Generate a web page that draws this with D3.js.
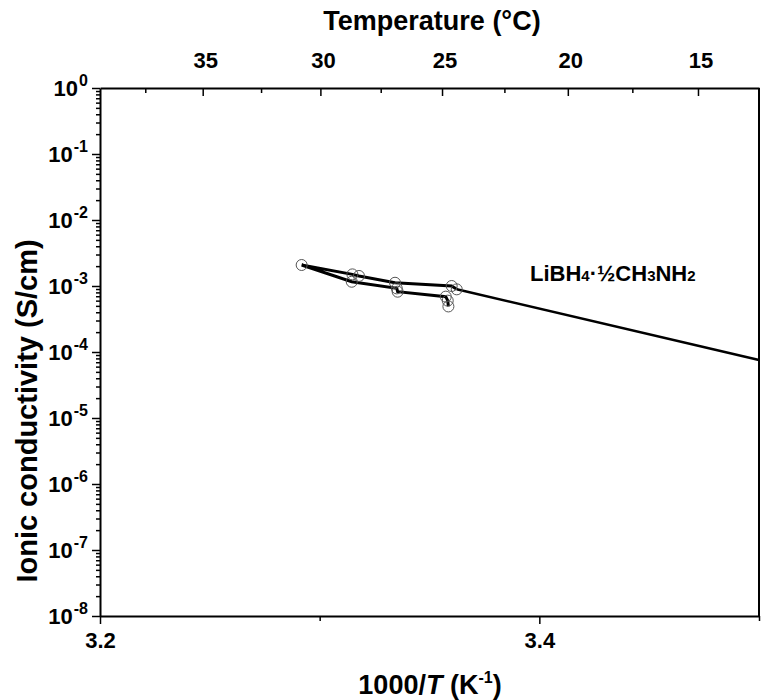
<!DOCTYPE html>
<html>
<head>
<meta charset="utf-8">
<script src="https://cdn.jsdelivr.net/npm/d3@7"></script>
<style>
  body { margin: 0; background: #fff; }
  text { font-family: "Liberation Sans", Arial, sans-serif; font-weight: bold; fill: #000; }
</style>
</head>
<body>
<div id="chart"></div>
<script>
// measured points, 1000/T (K^-1) and conductivity (S/cm), in path order
const invT = [3.3586, 3.3583, 3.3574, 3.3355, 3.3351, 3.3146, 3.2918, 3.3149, 3.3179, 3.3343, 3.3601, 3.3624];
const sigma = [4.9e-4, 6.0e-4, 6.9e-4, 8.2e-4, 9.2e-4, 1.16e-3, 2.08e-3, 1.50e-3, 1.42e-3, 1.12e-3, 1.0e-3, 8.9e-4];
// straight extension line
const fitInvT = [3.3624, 3.5];
const fitSigma = [8.9e-4, 7.57e-5];

const xMajor = [3.2, 3.4];
const xMinor = [3.3, 3.5];
const tempMajor = [35, 30, 25, 20, 15];
const tempMinor = [37.5, 32.5, 27.5, 22.5, 17.5];
const yExponents = [0, -1, -2, -3, -4, -5, -6, -7, -8];

var width = 767,
    height = 700,
    margin = {top: 88, right: 8, bottom: 84, left: 100};

var svg = d3.select("#chart")
    .append("svg")
    .attr("width", width)
    .attr("height", height);

var x = d3.scaleLinear().domain([3.2, 3.5]).range([margin.left, width - margin.right]);
var y = d3.scaleLog().domain([1e-8, 1]).range([height - margin.bottom, margin.top]);
var toX = c => 1000 / (c + 273);

var y0 = height - margin.bottom, y1 = margin.top;
var x0 = margin.left, x1 = width - margin.right;

// minor log ticks
var yMinor = [];
yExponents.slice(0, -1).forEach(e => {
    for (var k = 2; k < 10; k++) yMinor.push(k * Math.pow(10, e - 1));
});

// Y axis
svg.append("g")
    .attr("transform", `translate(${x0},0)`)
    .call(d3.axisLeft(y).tickValues(yExponents.map(e => Math.pow(10, e))).tickSize(8).tickSizeOuter(0).tickFormat(""));
svg.append("g")
    .attr("transform", `translate(${x0},0)`)
    .call(d3.axisLeft(y).tickValues(yMinor).tickSize(4).tickSizeOuter(0).tickFormat(""))
    .select(".domain").remove();

yExponents.forEach(e => {
    var t = svg.append("text")
        .attr("x", x0 - 12)
        .attr("y", y(Math.pow(10, e)) + 8)
        .attr("text-anchor", "end")
        .style("font-size", "22px");
    t.append("tspan").text("10");
    t.append("tspan").attr("dy", -10).attr("dx", 1).style("font-size", "16px").text(e);
});

// bottom axis
svg.append("g")
    .attr("transform", `translate(0,${y0})`)
    .call(d3.axisBottom(x).tickValues(xMajor).tickSize(8).tickSizeOuter(0).tickFormat(d3.format(".1f")))
    .call(g => g.selectAll("text").style("font-size", "22px").attr("dy", "0.95em"));
svg.append("g")
    .attr("transform", `translate(0,${y0})`)
    .call(d3.axisBottom(x).tickValues(xMinor).tickSize(5).tickSizeOuter(0).tickFormat(""))
    .select(".domain").remove();

// top axis (temperature, ticks inward)
svg.append("g")
    .attr("transform", `translate(0,${y1})`)
    .call(d3.axisBottom(x).tickValues(tempMajor.map(toX)).tickSize(8).tickSizeOuter(0).tickFormat(""));
svg.append("g")
    .attr("transform", `translate(0,${y1})`)
    .call(d3.axisBottom(x).tickValues(tempMinor.map(toX)).tickSize(5).tickSizeOuter(0).tickFormat(""))
    .select(".domain").remove();
svg.selectAll(".toplab")
    .data(tempMajor)
    .enter().append("text")
    .attr("class", "toplab")
    .attr("x", d => x(toX(d)) + 3)
    .attr("y", 68)
    .attr("text-anchor", "middle")
    .style("font-size", "22px")
    .text(d => d);

// right frame line
svg.append("line")
    .attr("x1", x1).attr("x2", x1)
    .attr("y1", y1).attr("y2", y0)
    .attr("stroke", "#000").attr("stroke-width", 2);

svg.selectAll(".domain").attr("stroke-width", 2);
svg.selectAll(".tick line").attr("stroke-width", 1.5);

// axis titles
svg.append("text")
    .attr("x", 432).attr("y", 30)
    .attr("text-anchor", "middle")
    .style("font-size", "27px")
    .text("Temperature (°C)");

var bt = svg.append("text")
    .attr("x", 430).attr("y", 694)
    .attr("text-anchor", "middle")
    .style("font-size", "27px");
bt.append("tspan").text("1000/");
bt.append("tspan").style("font-style", "italic").text("T");
bt.append("tspan").text(" (K");
bt.append("tspan").attr("dy", -11).style("font-size", "16px").text("-1");
bt.append("tspan").attr("dy", 11).text(")");

svg.append("text")
    .attr("transform", "translate(37,411) rotate(-90)")
    .attr("text-anchor", "middle")
    .style("font-size", "29px")
    .text("Ionic conductivity (S/cm)");

// data
var line = d3.line().x(d => x(d[0])).y(d => y(d[1]));
svg.append("path")
    .datum(fitInvT.map((v, i) => [v, fitSigma[i]]))
    .attr("d", line)
    .attr("fill", "none")
    .attr("stroke", "#000")
    .attr("stroke-width", 2.5);

var pts = invT.map((v, i) => [v, sigma[i]]);
svg.append("path")
    .datum(pts)
    .attr("d", line)
    .attr("fill", "none")
    .attr("stroke", "#000")
    .attr("stroke-width", 3);

svg.selectAll(".pt")
    .data(pts)
    .enter().append("circle")
    .attr("class", "pt")
    .attr("cx", d => x(d[0]))
    .attr("cy", d => y(d[1]))
    .attr("r", 5.5)
    .attr("fill", "none")
    .attr("stroke", "#555")
    .attr("stroke-width", 1);

// series label with subscripts
var lab = svg.append("text")
    .attr("x", 530).attr("y", 281)
    .style("font-size", "22px");
var parts = [["LiBH", 0], ["4", 1], ["·½CH", 0], ["3", 1], ["NH", 0], ["2", 1]];
parts.forEach(p => {
    lab.append("tspan")
        .style("font-size", p[1] ? "15px" : "22px")
        .text(p[0]);
});
</script>
</body>
</html>
